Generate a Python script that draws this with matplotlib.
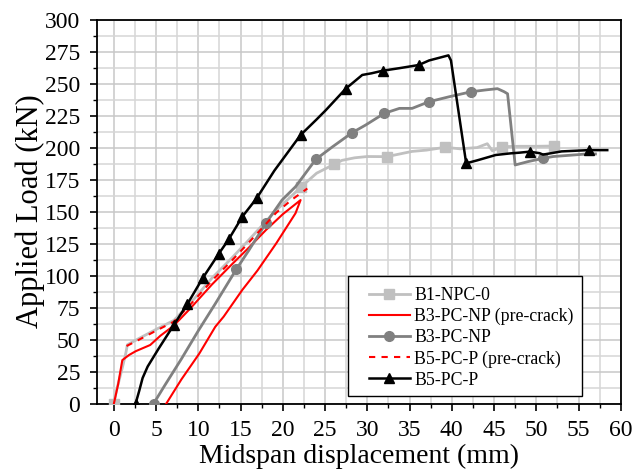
import matplotlib
matplotlib.use("Agg")
import matplotlib.pyplot as plt
from matplotlib.patches import Rectangle
from matplotlib.ticker import MultipleLocator

plt.rcParams['font.family'] = ['Liberation Serif', 'DejaVu Serif']

# B1-NPC-0 (control beam)
b1_x = [0, 0.3, 1.0, 1.4, 1.6, 3.0, 5.0, 7.1, 9.0, 11.6, 14.0, 16.0, 19.2, 21.0, 22.2,
        24.0, 26.1, 27.0, 28.5, 30.0, 32.3, 35.3, 37.0, 39.2, 41.0, 43.0, 44.2, 44.8,
        46.0, 48.0, 50.0, 52.1, 52.6]
b1_y = [0, 10, 28, 39, 46, 51, 58, 65, 78, 98, 114, 128, 151, 162, 169.5,
        180, 187, 190, 192, 193, 192.9, 197, 198, 200.2, 199, 200, 203, 197.5,
        200.7, 201, 201, 201.2, 201]
b1_marks = [0, 14, 16, 20, 23, 28, 31]

# B3-PC-NP pre-crack cycle (loading then unloading)
b3pre_x = [0, 0.5, 1.0, 1.8, 2.6, 4.3, 5.5, 7.1, 9.0, 11.6, 14.0, 16.0, 18.0, 20.0, 22.1,
           21.5, 19.2, 17.0, 15.2, 13.0, 12.0, 10.1, 8.0, 6.2]
b3pre_y = [0, 15, 34, 38, 41, 45.8, 53, 61, 74, 93, 109, 122, 135.6, 148, 159,
           148.7, 125, 104, 88.8, 68, 60, 39, 19, 0]

# B3-PC-NP
b3_x = [4.7, 6.0, 8.0, 10.0, 12.0, 14.5, 16.0, 18.0, 19.9, 21.5, 23.9, 25.9, 28.2, 29.8,
        32.0, 33.8, 35.3, 37.3, 39.7, 42.3, 44.0, 45.4, 46.2, 46.6, 47.5, 49.0, 50.8,
        52.0, 54.0, 56.0, 57.0]
b3_y = [0, 14, 35, 57, 78, 105, 120, 141, 159, 169.4, 190.8, 200.7, 211.6, 217.6,
        226.7, 230.6, 230.6, 235.8, 239.7, 243.6, 245, 246, 243.6, 242, 186.4, 189, 191.6,
        193, 194, 195, 195]
b3_marks = [0, 5, 7, 10, 12, 14, 17, 19, 26]

# B5-PC-P pre-crack loading
b5pre_x = [1.5, 3.0, 5.0, 7.1, 9.0, 11.6, 14.0, 16.0, 19.2, 21.0, 22.9]
b5pre_y = [45, 50, 57, 64, 77, 96, 112, 126, 149, 159, 168]

# B5-PC-P
b5_x = [2.57, 3.0, 3.4, 4.0, 5.3, 7.1, 8.7, 10.5, 12.4, 13.6, 15.2, 16.9, 19.0, 22.1,
        24.0, 25.1, 27.45, 29.4, 30.5, 31.8, 33.8, 36.1, 37.3, 39.6, 39.9, 41.7, 43.0,
        45.2, 47.0, 48.0, 49.2, 50.4, 50.8, 53.0, 56.2, 58.4]
b5_y = [0, 10, 20, 29, 43, 61.5, 77.8, 97.9, 116.9, 128.4, 146, 160.4, 182, 209.8,
        222, 229.3, 246, 256.7, 258, 260, 262, 264.5, 268, 272, 268, 187.7, 190,
        194.2, 195.5, 196, 196.8, 195.6, 194.5, 197, 198, 198]
b5_marks = [0, 5, 6, 7, 8, 9, 10, 11, 13, 16, 19, 21, 25, 30, 34]

fig = plt.figure(figsize=(6.38, 4.76), dpi=100)
ax = fig.add_axes([0.152, 0.152, 0.821, 0.807])

ax.plot(b1_x, b1_y, color='#c0c0c0', lw=2.0, marker='s', ms=6.5,
        markevery=b1_marks, label='B1-NPC-0', zorder=3)
ax.plot(b3pre_x, b3pre_y, color='#ff0000', lw=1.5, label='B3-PC-NP (pre-crack)', zorder=4)
ax.plot(b3_x, b3_y, color='#808080', lw=2.0, marker='o', ms=7,
        markevery=b3_marks, label='B3-PC-NP', zorder=5)
ax.plot(b5pre_x, b5pre_y, color='#ff0000', lw=1.5, ls=(0, (3, 3)),
        label='B5-PC-P (pre-crack)', zorder=6)
ax.plot(b5_x, b5_y, color='black', lw=1.8, marker='^', ms=7.5,
        markevery=b5_marks, label='B5-PC-P', zorder=7)

ax.set_xlim(-2, 60)
ax.set_ylim(0, 300)
ax.xaxis.set_major_locator(MultipleLocator(5))
ax.xaxis.set_minor_locator(MultipleLocator(2.5))
ax.yaxis.set_major_locator(MultipleLocator(25))
ax.yaxis.set_minor_locator(MultipleLocator(12.5))

ax.grid(True, which='major', color='#c8c8c8', lw=1.1, zorder=0)
ax.grid(True, which='minor', color='#d6d6d6', lw=1.1, zorder=0)
ax.set_axisbelow(True)

ax.tick_params(which='major', direction='out', length=5, width=1.2, labelsize=17,
               top=False, right=False)
ax.tick_params(axis='x', which='major', pad=7)
ax.tick_params(axis='y', which='major', pad=7)
ax.tick_params(which='minor', direction='out', length=3, width=1.0,
               top=False, right=False)
for s in ax.spines.values():
    s.set_linewidth(1.3)
    s.set_color('black')

ax.set_xlabel('Midspan displacement (mm)', fontsize=20, labelpad=2)
ax.set_ylabel('Applied Load (kN)', fontsize=22, labelpad=0)

# legend box, drawn separately so the padding can be uneven
ax.add_patch(Rectangle((0.479, 0.020), 0.4466, 0.3124, transform=ax.transAxes,
                       facecolor='white', edgecolor='black', lw=1.0, zorder=9))
leg = ax.legend(loc='upper left', bbox_to_anchor=(0.519, 0.303), borderaxespad=0,
                fontsize=12.8, frameon=False, handlelength=2.3, labelspacing=0.22,
                borderpad=0, handletextpad=0.25)
leg.set_zorder(10)

fig.savefig('out.png', dpi=100)
